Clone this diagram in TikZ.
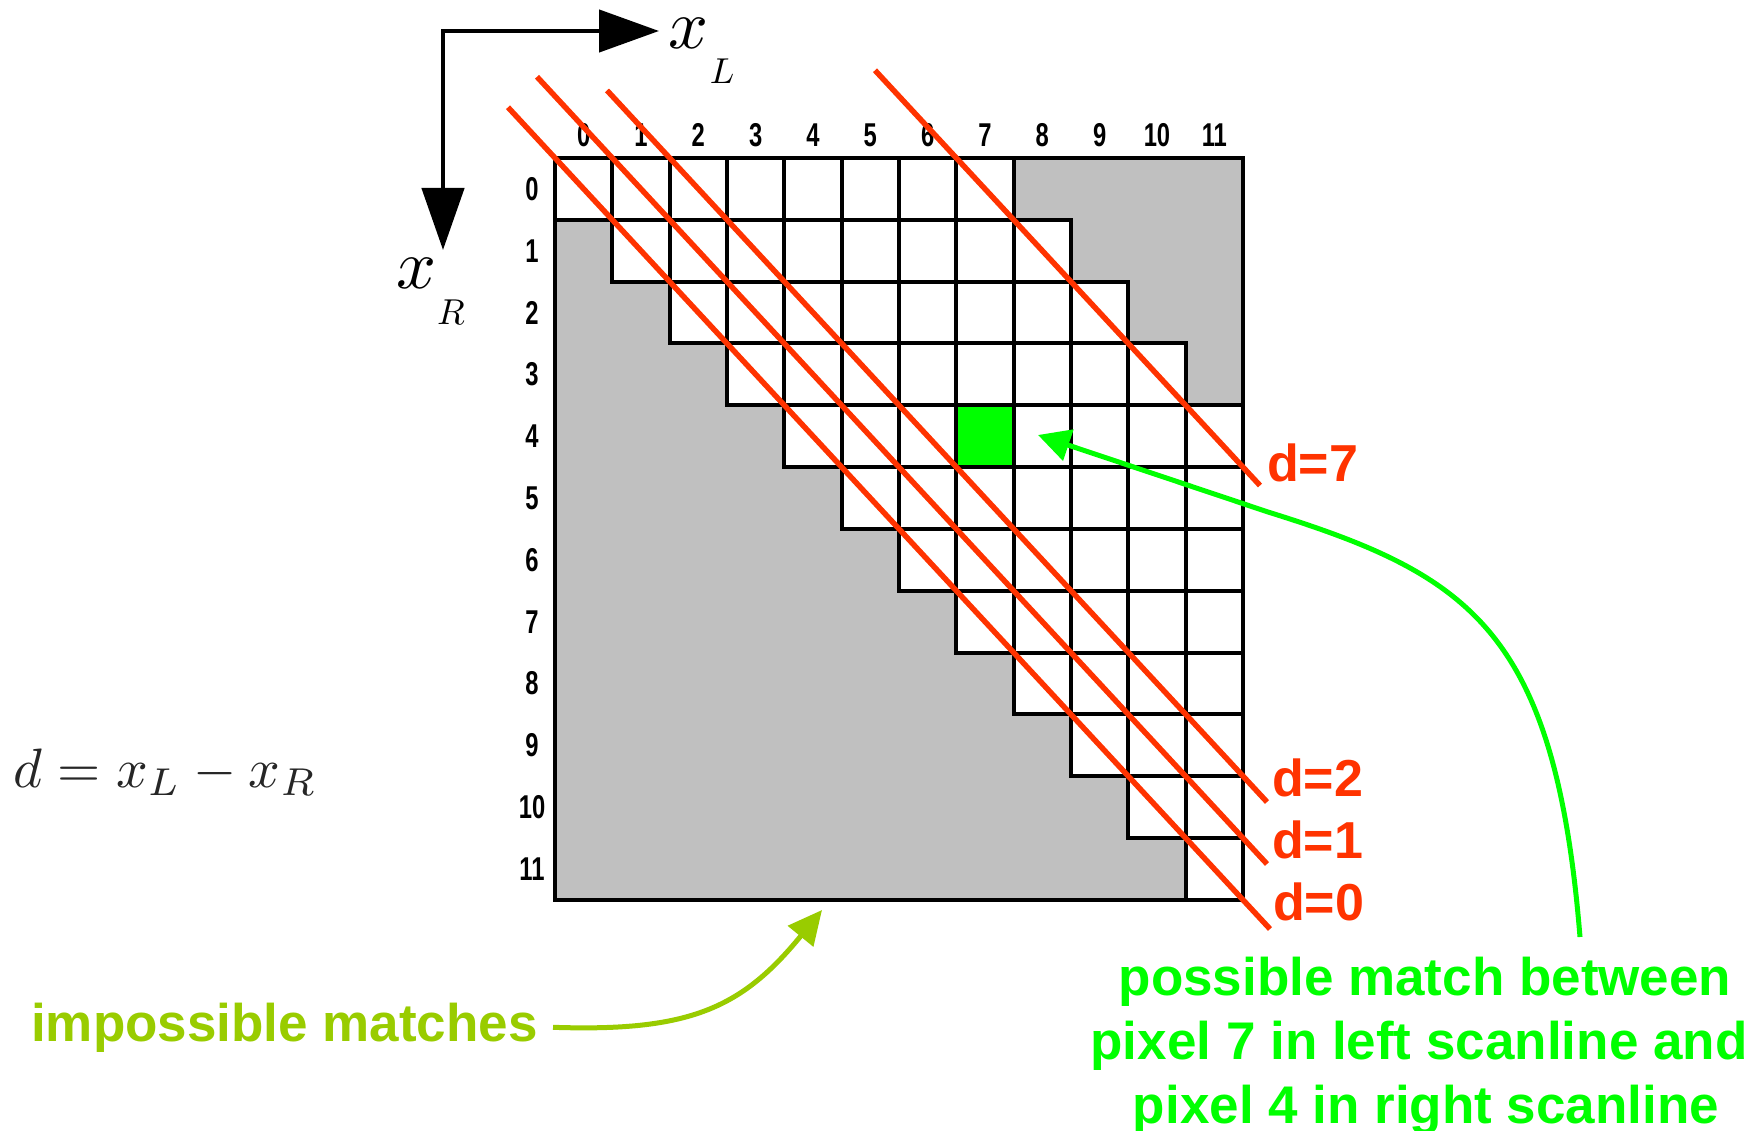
\documentclass[tikz,border=0pt]{standalone}
\usepackage{fontspec}
\setmainfont{Liberation Sans}
\usetikzlibrary{arrows.meta,calc}
\definecolor{dred}{HTML}{FF3300}
\definecolor{mygreen}{HTML}{00FF00}
\definecolor{myolive}{HTML}{99CC00}
\definecolor{cellgray}{HTML}{C0C0C0}
\def\gcw{57.33}
\def\grh{61.83}
\begin{document}
\begin{tikzpicture}[x=1pt,y=-1pt,
  cellbox/.style={draw=black,line width=4pt,fill=white},
  redline/.style={draw=dred,line width=5.5pt},
  redlabel/.style={text=dred,font=\fontsize{52}{60}\selectfont\bfseries,inner sep=0pt,anchor=west},
  greentext/.style={text=mygreen,font=\fontsize{53}{63}\selectfont\bfseries,inner sep=0pt,anchor=base},
  digit/.style={font=\fontsize{33}{36}\selectfont\bfseries,inner sep=0pt},
  axis/.style={line width=4.5pt,{Triangle[length=62pt,width=42pt]}-{Triangle[length=60pt,width=42pt]}}
]
\useasboundingbox (0,0) rectangle (1759,1131);
\fill[white] (0,0) rectangle (1759,1131);
% grid background
\fill[cellgray] (555,158) rectangle (555+12*\gcw,158+12*\grh);
\foreach \r in {0,...,11}{
  \foreach \c in {0,...,11}{
    \pgfmathtruncatemacro\dd{\c-\r}
    \ifnum\dd>-1 \ifnum\dd<8
      \draw[cellbox] (555+\c*\gcw,158+\r*\grh) rectangle ++(\gcw,\grh);
    \fi\fi
  }
}
\draw[cellbox,fill=mygreen] (555+7*\gcw,158+4*\grh) rectangle ++(\gcw,\grh);
\draw[line width=4pt] (555,158) rectangle (555+12*\gcw,158+12*\grh);
% labels
\foreach \i in {0,...,11}{
  \node[digit] (col\i) at (555+\i*\gcw+0.5*\gcw,135) {\scalebox{0.72}[1]{\i}};
  \node[digit] (row\i) at (532,158+\i*\grh+0.5*\grh) {\scalebox{0.72}[1]{\i}};
}
% axes
\coordinate (corner) at (443,31);
\coordinate (xRtip) at (443,250);
\coordinate (xLtip) at (659,31);
\draw[axis] (xRtip) |- (xLtip);
\node[inner sep=0pt] (xL) at (688,33) {\scalebox{7}{$x$}};
\node[inner sep=0pt] (xLsub) at (722,71) {\scalebox{3.6}{$L$}};
\node[inner sep=0pt] (xR) at (416,273) {\scalebox{7}{$x$}};
\node[inner sep=0pt] (xRsub) at (451,312) {\scalebox{3.6}{$R$}};
% formula
\node[inner sep=0pt,anchor=west,text=black!85] (formula) at (13,772) {\scalebox{5.55}{$d = x_L - x_R$}};
% red lines
\coordinate (r0a) at (508,107.3); \coordinate (r0b) at (1270,929);
\coordinate (r1a) at (537,76.8);  \coordinate (r1b) at (1267,864);
\coordinate (r2a) at (607,90.4);  \coordinate (r2b) at (1267,802);
\coordinate (r7a) at (875,70.3);  \coordinate (r7b) at (1260,485.5);
\draw[redline] (r0a) -- (r0b);
\draw[redline] (r1a) -- (r1b);
\draw[redline] (r2a) -- (r2b);
\draw[redline] (r7a) -- (r7b);
\node[redlabel] (d7) at (1267,463) {d=7};
\node[redlabel] (d2) at (1272,778) {d=2};
\node[redlabel] (d1) at (1272,840) {d=1};
\node[redlabel] (d0) at (1273,902) {d=0};
% impossible matches
\node[inner sep=0pt,anchor=base west,text=myolive,font=\fontsize{53}{63}\selectfont\bfseries] (imp) at (31,1041) {impossible matches};
\coordinate (imptip) at (822,910);
\draw[myolive,line width=5pt,-{Triangle[length=34pt,width=32pt]}] ([xshift=15pt]imp.east) .. controls (690,1032) and (742,1008) .. (imptip);
% possible match
\node[greentext] (poss1) at (1425,995) {possible match between};
\node[greentext] (poss2) at (1419,1059) {pixel 7 in left scanline and};
\node[greentext] (poss3) at (1426,1123) {pixel 4 in right scanline};
\coordinate (gs) at (1580,937);
\coordinate (gtip) at (1038,435);
\coordinate (gmid) at (1268,512);
\draw[mygreen,line width=5pt,-{Triangle[length=32pt,width=32pt]}] (gs) .. controls (1555,630) and (1470,575) .. (gmid) -- (gtip);
\end{tikzpicture}
\end{document}
